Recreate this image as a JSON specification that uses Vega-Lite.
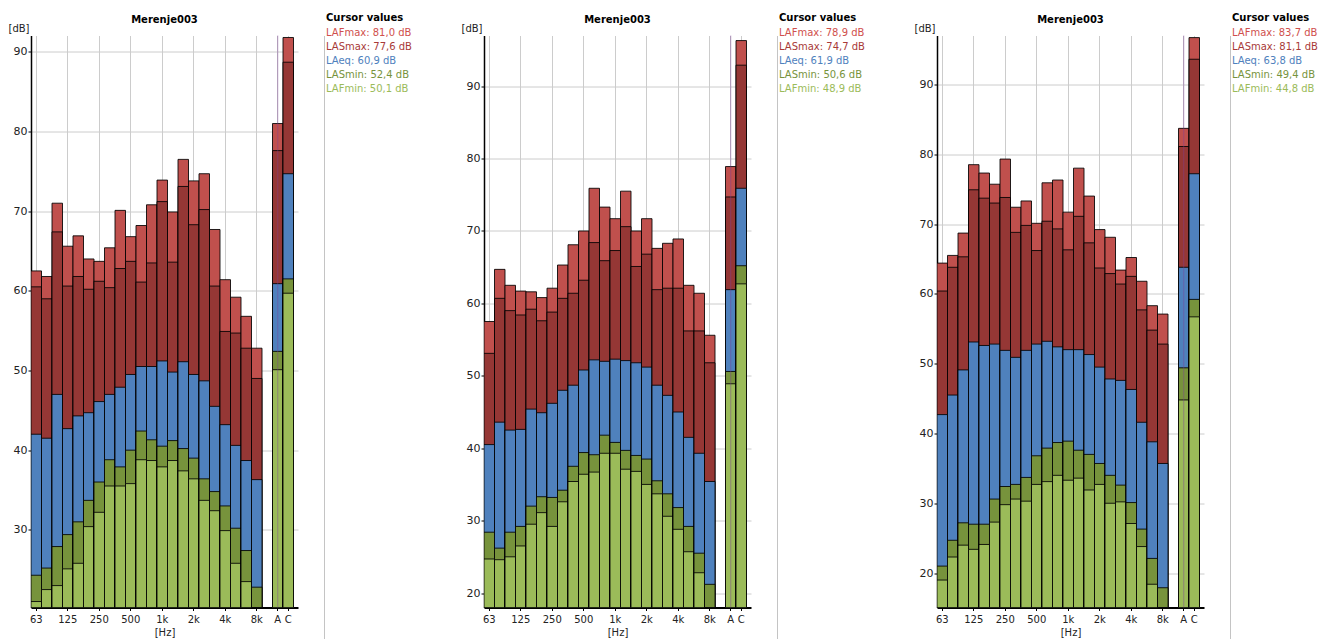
{
"$schema": "https://vega.github.io/schema/vega-lite/v6.json",
"padding": {"left": 7, "top": 12.5, "right": 0, "bottom": 0},
"autosize": {"type": "pad"},
"bounds": "flush",
"spacing": 26,
"config": {"view": {"stroke": null}, "font": "DejaVu Sans"},
"resolve": {"scale": {"x": "independent", "y": "independent", "color": "independent"}, "legend": {"color": "independent"}},
"datasets": {
"bands": [
{"p":1,"f":"63","LAFmax":62.5,"LASmax":60.5,"LAeq":42.0,"LASmin":24.3,"LAFmin":21.0},
{"p":1,"f":"80","LAFmax":61.8,"LASmax":59.0,"LAeq":41.5,"LASmin":25.2,"LAFmin":22.5},
{"p":1,"f":"100","LAFmax":71.0,"LASmax":67.4,"LAeq":47.0,"LASmin":27.9,"LAFmin":23.0},
{"p":1,"f":"125","LAFmax":65.6,"LASmax":60.6,"LAeq":42.7,"LASmin":29.4,"LAFmin":25.1},
{"p":1,"f":"160","LAFmax":66.9,"LASmax":61.8,"LAeq":44.3,"LASmin":31.0,"LAFmin":25.8},
{"p":1,"f":"200","LAFmax":64.0,"LASmax":60.2,"LAeq":44.7,"LASmin":33.7,"LAFmin":30.4},
{"p":1,"f":"250","LAFmax":63.7,"LASmax":61.2,"LAeq":46.1,"LASmin":36.0,"LAFmin":32.2},
{"p":1,"f":"315","LAFmax":65.4,"LASmax":60.4,"LAeq":47.0,"LASmin":38.8,"LAFmin":35.5},
{"p":1,"f":"400","LAFmax":70.1,"LASmax":62.8,"LAeq":47.9,"LASmin":37.9,"LAFmin":35.5},
{"p":1,"f":"500","LAFmax":66.8,"LASmax":63.7,"LAeq":49.5,"LASmin":40.0,"LAFmin":35.8},
{"p":1,"f":"630","LAFmax":68.2,"LASmax":61.1,"LAeq":50.5,"LASmin":42.4,"LAFmin":38.8},
{"p":1,"f":"800","LAFmax":70.8,"LASmax":63.5,"LAeq":50.5,"LASmin":41.3,"LAFmin":38.7},
{"p":1,"f":"1k","LAFmax":73.9,"LASmax":71.2,"LAeq":51.2,"LASmin":40.5,"LAFmin":37.9},
{"p":1,"f":"1.25k","LAFmax":69.9,"LASmax":63.6,"LAeq":49.8,"LASmin":41.2,"LAFmin":38.7},
{"p":1,"f":"1.6k","LAFmax":76.5,"LASmax":73.1,"LAeq":51.1,"LASmin":40.2,"LAFmin":37.4},
{"p":1,"f":"2k","LAFmax":73.8,"LASmax":68.3,"LAeq":49.5,"LASmin":39.0,"LAFmin":36.4},
{"p":1,"f":"2.5k","LAFmax":74.7,"LASmax":70.2,"LAeq":48.7,"LASmin":36.4,"LAFmin":33.7},
{"p":1,"f":"3.15k","LAFmax":67.7,"LASmax":60.6,"LAeq":45.5,"LASmin":34.8,"LAFmin":32.4},
{"p":1,"f":"4k","LAFmax":61.4,"LASmax":54.9,"LAeq":43.2,"LASmin":33.0,"LAFmin":29.9},
{"p":1,"f":"5k","LAFmax":59.2,"LASmax":54.7,"LAeq":40.6,"LASmin":30.2,"LAFmin":25.8},
{"p":1,"f":"6.3k","LAFmax":56.8,"LASmax":52.8,"LAeq":38.7,"LASmin":27.4,"LAFmin":23.5},
{"p":1,"f":"8k","LAFmax":52.8,"LASmax":49.0,"LAeq":36.3,"LASmin":22.8,"LAFmin":20.25},
{"p":1,"f":"A","LAFmax":81.0,"LASmax":77.6,"LAeq":60.9,"LASmin":52.4,"LAFmin":50.1},
{"p":1,"f":"C","LAFmax":91.8,"LASmax":88.7,"LAeq":74.7,"LASmin":61.5,"LAFmin":59.7},
{"p":2,"f":"63","LAFmax":57.5,"LASmax":53.1,"LAeq":40.5,"LASmin":28.4,"LAFmin":24.7},
{"p":2,"f":"80","LAFmax":64.7,"LASmax":60.7,"LAeq":43.6,"LASmin":26.2,"LAFmin":24.6},
{"p":2,"f":"100","LAFmax":62.5,"LASmax":59.0,"LAeq":42.5,"LASmin":28.4,"LAFmin":25.0},
{"p":2,"f":"125","LAFmax":61.7,"LASmax":58.4,"LAeq":42.6,"LASmin":29.2,"LAFmin":26.5},
{"p":2,"f":"160","LAFmax":61.6,"LASmax":59.2,"LAeq":45.4,"LASmin":32.0,"LAFmin":29.5},
{"p":2,"f":"200","LAFmax":60.8,"LASmax":57.6,"LAeq":44.9,"LASmin":33.3,"LAFmin":31.1},
{"p":2,"f":"250","LAFmax":62.1,"LASmax":58.8,"LAeq":46.2,"LASmin":33.2,"LAFmin":29.2},
{"p":2,"f":"315","LAFmax":65.3,"LASmax":60.7,"LAeq":48.0,"LASmin":34.2,"LAFmin":32.6},
{"p":2,"f":"400","LAFmax":68.1,"LASmax":61.4,"LAeq":48.7,"LASmin":37.5,"LAFmin":35.4},
{"p":2,"f":"500","LAFmax":70.0,"LASmax":63.2,"LAeq":50.8,"LASmin":39.4,"LAFmin":36.4},
{"p":2,"f":"630","LAFmax":75.9,"LASmax":68.4,"LAeq":52.2,"LASmin":39.1,"LAFmin":36.7},
{"p":2,"f":"800","LAFmax":73.3,"LASmax":65.9,"LAeq":52.0,"LASmin":41.8,"LAFmin":39.3},
{"p":2,"f":"1k","LAFmax":71.7,"LASmax":67.3,"LAeq":52.3,"LASmin":40.8,"LAFmin":39.3},
{"p":2,"f":"1.25k","LAFmax":75.5,"LASmax":70.6,"LAeq":52.1,"LASmin":39.7,"LAFmin":37.1},
{"p":2,"f":"1.6k","LAFmax":70.0,"LASmax":65.1,"LAeq":51.8,"LASmin":39.0,"LAFmin":36.8},
{"p":2,"f":"2k","LAFmax":71.7,"LASmax":66.8,"LAeq":51.2,"LASmin":38.5,"LAFmin":35.0},
{"p":2,"f":"2.5k","LAFmax":67.6,"LASmax":61.9,"LAeq":48.7,"LASmin":35.5,"LAFmin":33.7},
{"p":2,"f":"3.15k","LAFmax":68.3,"LASmax":62.1,"LAeq":47.3,"LASmin":33.7,"LAFmin":30.6},
{"p":2,"f":"4k","LAFmax":68.9,"LASmax":62.1,"LAeq":45.0,"LASmin":31.8,"LAFmin":28.8},
{"p":2,"f":"5k","LAFmax":62.5,"LASmax":56.2,"LAeq":41.5,"LASmin":29.2,"LAFmin":25.7},
{"p":2,"f":"6.3k","LAFmax":61.4,"LASmax":56.2,"LAeq":39.3,"LASmin":25.5,"LAFmin":22.8},
{"p":2,"f":"8k","LAFmax":55.6,"LASmax":51.8,"LAeq":35.4,"LASmin":21.2,"LAFmin":18.0},
{"p":2,"f":"A","LAFmax":78.9,"LASmax":74.7,"LAeq":61.9,"LASmin":50.6,"LAFmin":48.9},
{"p":2,"f":"C","LAFmax":96.3,"LASmax":92.9,"LAeq":75.9,"LASmin":65.2,"LAFmin":62.7},
{"p":3,"f":"63","LAFmax":64.4,"LASmax":60.4,"LAeq":42.7,"LASmin":21.0,"LAFmin":19.0},
{"p":3,"f":"80","LAFmax":65.5,"LASmax":63.8,"LAeq":45.5,"LASmin":24.7,"LAFmin":22.3},
{"p":3,"f":"100","LAFmax":68.7,"LASmax":65.3,"LAeq":49.1,"LASmin":27.2,"LAFmin":24.0},
{"p":3,"f":"125","LAFmax":78.5,"LASmax":74.9,"LAeq":53.1,"LASmin":27.0,"LAFmin":23.4},
{"p":3,"f":"160","LAFmax":77.3,"LASmax":73.7,"LAeq":52.6,"LASmin":27.0,"LAFmin":24.1},
{"p":3,"f":"200","LAFmax":75.7,"LASmax":73.0,"LAeq":52.8,"LASmin":30.6,"LAFmin":27.3},
{"p":3,"f":"250","LAFmax":79.3,"LASmax":73.8,"LAeq":51.9,"LASmin":32.4,"LAFmin":29.8},
{"p":3,"f":"315","LAFmax":72.4,"LASmax":68.8,"LAeq":50.9,"LASmin":32.7,"LAFmin":30.6},
{"p":3,"f":"400","LAFmax":73.3,"LASmax":69.8,"LAeq":51.9,"LASmin":33.7,"LAFmin":30.3},
{"p":3,"f":"500","LAFmax":70.1,"LASmax":66.2,"LAeq":52.8,"LASmin":36.8,"LAFmin":32.7},
{"p":3,"f":"630","LAFmax":75.9,"LASmax":70.4,"LAeq":53.2,"LASmin":37.9,"LAFmin":33.1},
{"p":3,"f":"800","LAFmax":76.3,"LASmax":69.3,"LAeq":52.4,"LASmin":38.7,"LAFmin":34.0},
{"p":3,"f":"1k","LAFmax":71.7,"LASmax":66.3,"LAeq":52.0,"LASmin":38.9,"LAFmin":33.3},
{"p":3,"f":"1.25k","LAFmax":78.0,"LASmax":71.1,"LAeq":52.0,"LASmin":37.6,"LAFmin":33.6},
{"p":3,"f":"1.6k","LAFmax":74.0,"LASmax":67.3,"LAeq":51.3,"LASmin":37.0,"LAFmin":31.9},
{"p":3,"f":"2k","LAFmax":69.2,"LASmax":63.7,"LAeq":49.5,"LASmin":35.7,"LAFmin":32.7},
{"p":3,"f":"2.5k","LAFmax":68.1,"LASmax":62.9,"LAeq":47.8,"LASmin":34.0,"LAFmin":30.0},
{"p":3,"f":"3.15k","LAFmax":63.4,"LASmax":61.4,"LAeq":47.6,"LASmin":32.6,"LAFmin":30.2},
{"p":3,"f":"4k","LAFmax":65.2,"LASmax":62.5,"LAeq":46.3,"LASmin":30.1,"LAFmin":27.1},
{"p":3,"f":"5k","LAFmax":61.8,"LASmax":57.7,"LAeq":41.6,"LASmin":26.3,"LAFmin":23.8},
{"p":3,"f":"6.3k","LAFmax":58.3,"LASmax":54.8,"LAeq":38.8,"LASmin":22.1,"LAFmin":18.4},
{"p":3,"f":"8k","LAFmax":57.1,"LASmax":52.8,"LAeq":35.7,"LASmin":17.9,"LAFmin":15.07},
{"p":3,"f":"A","LAFmax":83.7,"LASmax":81.1,"LAeq":63.8,"LASmin":49.4,"LAFmin":44.8},
{"p":3,"f":"C","LAFmax":96.7,"LASmax":93.6,"LAeq":77.2,"LASmin":59.2,"LAFmin":56.7}
]
},
"hconcat": [
{
"width": 267, "height": 572,
"title": {"text": "Merenje003", "font": "DejaVu Sans", "fontSize": 10, "fontWeight": "bold", "color": "black", "anchor": "middle", "frame": "group", "offset": 16, "baseline": "alphabetic", "dy": 36},
"layer": [
{
"data": {"name": "bands"},
"transform": [{"filter": "datum.p == 1"}, {"fold": ["LAFmax", "LASmax", "LAeq", "LASmin", "LAFmin"], "as": ["m", "v"]}],
"mark": {"type": "bar", "stroke": "black", "strokeWidth": 1, "strokeOpacity": 0.85, "clip": true},
"encoding": {
"x": {"field": "f", "type": "nominal", "title": "[Hz]",
 "scale": {"domain": ["63","80","100","125","160","200","250","315","400","500","630","800","1k","1.25k","1.6k","2k","2.5k","3.15k","4k","5k","6.3k","8k"," ","A","C"], "paddingInner": 0, "paddingOuter": 0.214, "align": 0},
 "axis": {"values": ["63","125","250","500","1k","2k","4k","8k","A","C"], "grid": true, "gridColor": "#cccccc", "bandPosition": 0.5, "labelAngle": 0, "labelFont": "DejaVu Sans", "labelFontSize": 10, "labelColor": "#222222", "tickSize": 3, "tickColor": "black", "domainColor": "black", "domainWidth": 2, "labelPadding": 4, "titleFont": "DejaVu Sans", "titleFontSize": 10, "titleFontWeight": "normal", "titleColor": "#222222", "titleBaseline": "alphabetic", "titleY": 28}},
"y": {"field": "v", "type": "quantitative", "stack": null, "title": "[dB]",
 "scale": {"domain": [20.25, 92.05], "nice": false, "zero": false},
 "axis": {"values": [30,40,50,60,70,80,90], "grid": true, "gridColor": "#cccccc", "tickSize": 3, "tickColor": "black", "domainColor": "black", "domainWidth": 1.5, "labelFont": "DejaVu Sans", "labelFontSize": 11, "labelColor": "#222222", "labelPadding": 1, "titleAngle": 0, "titleAlign": "right", "titleBaseline": "alphabetic", "titleX": -2, "titleY": -4, "titleFont": "DejaVu Sans", "titleFontSize": 10, "titleFontWeight": "normal", "titleColor": "#222222"}},
"y2": {"datum": 20.25},
"color": {"field": "m", "type": "nominal",
 "scale": {"domain": ["LAFmax","LASmax","LAeq","LASmin","LAFmin"], "range": ["#C0504D","#953735","#4F81BD","#77933C","#9BBB59"]},
 "legend": {"orient": "none", "legendX": 295, "legendY": -22.5, "title": "Cursor values", "titleFont": "DejaVu Sans", "titleFontSize": 10, "titleFontWeight": "bold", "titleColor": "black", "titlePadding": 5, "labelFont": "DejaVu Sans", "labelFontSize": 10, "symbolSize": 0.01, "symbolOpacity": 0, "symbolStrokeWidth": 0, "labelOffset": -10, "rowPadding": 4, "padding": 0,
  "labelExpr": "datum.label == 'LAFmax' ? 'LAFmax: 81,0 dB' : datum.label == 'LASmax' ? 'LASmax: 77,6 dB' : datum.label == 'LAeq' ? 'LAeq: 60,9 dB' : datum.label == 'LASmin' ? 'LASmin: 52,4 dB' : 'LAFmin: 50,1 dB'",
  "labelColor": {"expr": "datum.value == 'LAFmax' ? '#D0504D' : datum.value == 'LASmax' ? '#A83A38' : datum.value == 'LAeq' ? '#4F81BD' : datum.value == 'LASmin' ? '#77933C' : '#9BBB59'"}}}
}
},
{
"data": {"values": [{"c": "A"}]},
"mark": {"type": "rule", "color": "#7f3f98", "strokeOpacity": 0.45, "strokeWidth": 1},
"encoding": {"x": {"datum": "A", "bandPosition": 0.5}}
}
]
},
{
"width": 134, "height": 603,
"view": {"stroke": "#c4c4c4", "strokeWidth": 1, "strokeDash": [0, 871, 603]},
"data": {"values": []},
"mark": "point",
"encoding": {}
},
{
"width": 267, "height": 572,
"title": {"text": "Merenje003", "font": "DejaVu Sans", "fontSize": 10, "fontWeight": "bold", "color": "black", "anchor": "middle", "frame": "group", "offset": 16, "baseline": "alphabetic", "dy": 36},
"layer": [
{
"data": {"name": "bands"},
"transform": [{"filter": "datum.p == 2"}, {"fold": ["LAFmax", "LASmax", "LAeq", "LASmin", "LAFmin"], "as": ["m", "v"]}],
"mark": {"type": "bar", "stroke": "black", "strokeWidth": 1, "strokeOpacity": 0.85, "clip": true},
"encoding": {
"x": {"field": "f", "type": "nominal", "title": "[Hz]",
 "scale": {"domain": ["63","80","100","125","160","200","250","315","400","500","630","800","1k","1.25k","1.6k","2k","2.5k","3.15k","4k","5k","6.3k","8k"," ","A","C"], "paddingInner": 0, "paddingOuter": 0.214, "align": 0},
 "axis": {"values": ["63","125","250","500","1k","2k","4k","8k","A","C"], "grid": true, "gridColor": "#cccccc", "bandPosition": 0.5, "labelAngle": 0, "labelFont": "DejaVu Sans", "labelFontSize": 10, "labelColor": "#222222", "tickSize": 3, "tickColor": "black", "domainColor": "black", "domainWidth": 2, "labelPadding": 4, "titleFont": "DejaVu Sans", "titleFontSize": 10, "titleFontWeight": "normal", "titleColor": "#222222", "titleBaseline": "alphabetic", "titleY": 28}},
"y": {"field": "v", "type": "quantitative", "stack": null, "title": "[dB]",
 "scale": {"domain": [18.0, 97.0], "nice": false, "zero": false},
 "axis": {"values": [20,30,40,50,60,70,80,90], "grid": true, "gridColor": "#cccccc", "tickSize": 3, "tickColor": "black", "domainColor": "black", "domainWidth": 1.5, "labelFont": "DejaVu Sans", "labelFontSize": 11, "labelColor": "#222222", "labelPadding": 1, "titleAngle": 0, "titleAlign": "right", "titleBaseline": "alphabetic", "titleX": -2, "titleY": -4, "titleFont": "DejaVu Sans", "titleFontSize": 10, "titleFontWeight": "normal", "titleColor": "#222222"}},
"y2": {"datum": 18.0},
"color": {"field": "m", "type": "nominal",
 "scale": {"domain": ["LAFmax","LASmax","LAeq","LASmin","LAFmin"], "range": ["#C0504D","#953735","#4F81BD","#77933C","#9BBB59"]},
 "legend": {"orient": "none", "legendX": 295, "legendY": -22.5, "title": "Cursor values", "titleFont": "DejaVu Sans", "titleFontSize": 10, "titleFontWeight": "bold", "titleColor": "black", "titlePadding": 5, "labelFont": "DejaVu Sans", "labelFontSize": 10, "symbolSize": 0.01, "symbolOpacity": 0, "symbolStrokeWidth": 0, "labelOffset": -10, "rowPadding": 4, "padding": 0,
  "labelExpr": "datum.label == 'LAFmax' ? 'LAFmax: 78,9 dB' : datum.label == 'LASmax' ? 'LASmax: 74,7 dB' : datum.label == 'LAeq' ? 'LAeq: 61,9 dB' : datum.label == 'LASmin' ? 'LASmin: 50,6 dB' : 'LAFmin: 48,9 dB'",
  "labelColor": {"expr": "datum.value == 'LAFmax' ? '#D0504D' : datum.value == 'LASmax' ? '#A83A38' : datum.value == 'LAeq' ? '#4F81BD' : datum.value == 'LASmin' ? '#77933C' : '#9BBB59'"}}}
}
},
{
"data": {"values": [{"c": "A"}]},
"mark": {"type": "rule", "color": "#7f3f98", "strokeOpacity": 0.45, "strokeWidth": 1},
"encoding": {"x": {"datum": "A", "bandPosition": 0.5}}
}
]
},
{
"width": 134, "height": 603,
"view": {"stroke": "#c4c4c4", "strokeWidth": 1, "strokeDash": [0, 871, 603]},
"data": {"values": []},
"mark": "point",
"encoding": {}
},
{
"width": 267, "height": 572,
"title": {"text": "Merenje003", "font": "DejaVu Sans", "fontSize": 10, "fontWeight": "bold", "color": "black", "anchor": "middle", "frame": "group", "offset": 16, "baseline": "alphabetic", "dy": 36},
"layer": [
{
"data": {"name": "bands"},
"transform": [{"filter": "datum.p == 3"}, {"fold": ["LAFmax", "LASmax", "LAeq", "LASmin", "LAFmin"], "as": ["m", "v"]}],
"mark": {"type": "bar", "stroke": "black", "strokeWidth": 1, "strokeOpacity": 0.85, "clip": true},
"encoding": {
"x": {"field": "f", "type": "nominal", "title": "[Hz]",
 "scale": {"domain": ["63","80","100","125","160","200","250","315","400","500","630","800","1k","1.25k","1.6k","2k","2.5k","3.15k","4k","5k","6.3k","8k"," ","A","C"], "paddingInner": 0, "paddingOuter": 0.214, "align": 0},
 "axis": {"values": ["63","125","250","500","1k","2k","4k","8k","A","C"], "grid": true, "gridColor": "#cccccc", "bandPosition": 0.5, "labelAngle": 0, "labelFont": "DejaVu Sans", "labelFontSize": 10, "labelColor": "#222222", "tickSize": 3, "tickColor": "black", "domainColor": "black", "domainWidth": 2, "labelPadding": 4, "titleFont": "DejaVu Sans", "titleFontSize": 10, "titleFontWeight": "normal", "titleColor": "#222222", "titleBaseline": "alphabetic", "titleY": 28}},
"y": {"field": "v", "type": "quantitative", "stack": null, "title": "[dB]",
 "scale": {"domain": [15.07, 97.0], "nice": false, "zero": false},
 "axis": {"values": [20,30,40,50,60,70,80,90], "grid": true, "gridColor": "#cccccc", "tickSize": 3, "tickColor": "black", "domainColor": "black", "domainWidth": 1.5, "labelFont": "DejaVu Sans", "labelFontSize": 11, "labelColor": "#222222", "labelPadding": 1, "titleAngle": 0, "titleAlign": "right", "titleBaseline": "alphabetic", "titleX": -2, "titleY": -4, "titleFont": "DejaVu Sans", "titleFontSize": 10, "titleFontWeight": "normal", "titleColor": "#222222"}},
"y2": {"datum": 15.07},
"color": {"field": "m", "type": "nominal",
 "scale": {"domain": ["LAFmax","LASmax","LAeq","LASmin","LAFmin"], "range": ["#C0504D","#953735","#4F81BD","#77933C","#9BBB59"]},
 "legend": {"orient": "none", "legendX": 295, "legendY": -22.5, "title": "Cursor values", "titleFont": "DejaVu Sans", "titleFontSize": 10, "titleFontWeight": "bold", "titleColor": "black", "titlePadding": 5, "labelFont": "DejaVu Sans", "labelFontSize": 10, "symbolSize": 0.01, "symbolOpacity": 0, "symbolStrokeWidth": 0, "labelOffset": -10, "rowPadding": 4, "padding": 0,
  "labelExpr": "datum.label == 'LAFmax' ? 'LAFmax: 83,7 dB' : datum.label == 'LASmax' ? 'LASmax: 81,1 dB' : datum.label == 'LAeq' ? 'LAeq: 63,8 dB' : datum.label == 'LASmin' ? 'LASmin: 49,4 dB' : 'LAFmin: 44,8 dB'",
  "labelColor": {"expr": "datum.value == 'LAFmax' ? '#D0504D' : datum.value == 'LASmax' ? '#A83A38' : datum.value == 'LAeq' ? '#4F81BD' : datum.value == 'LASmin' ? '#77933C' : '#9BBB59'"}}}
}
},
{
"data": {"values": [{"c": "A"}]},
"mark": {"type": "rule", "color": "#7f3f98", "strokeOpacity": 0.45, "strokeWidth": 1},
"encoding": {"x": {"datum": "A", "bandPosition": 0.5}}
}
]
},
{
"width": 90, "height": 603,
"view": {"stroke": "#c4c4c4", "strokeWidth": 1, "strokeDash": [0, 783, 603]},
"data": {"values": []},
"mark": "point",
"encoding": {}
}
]
}
